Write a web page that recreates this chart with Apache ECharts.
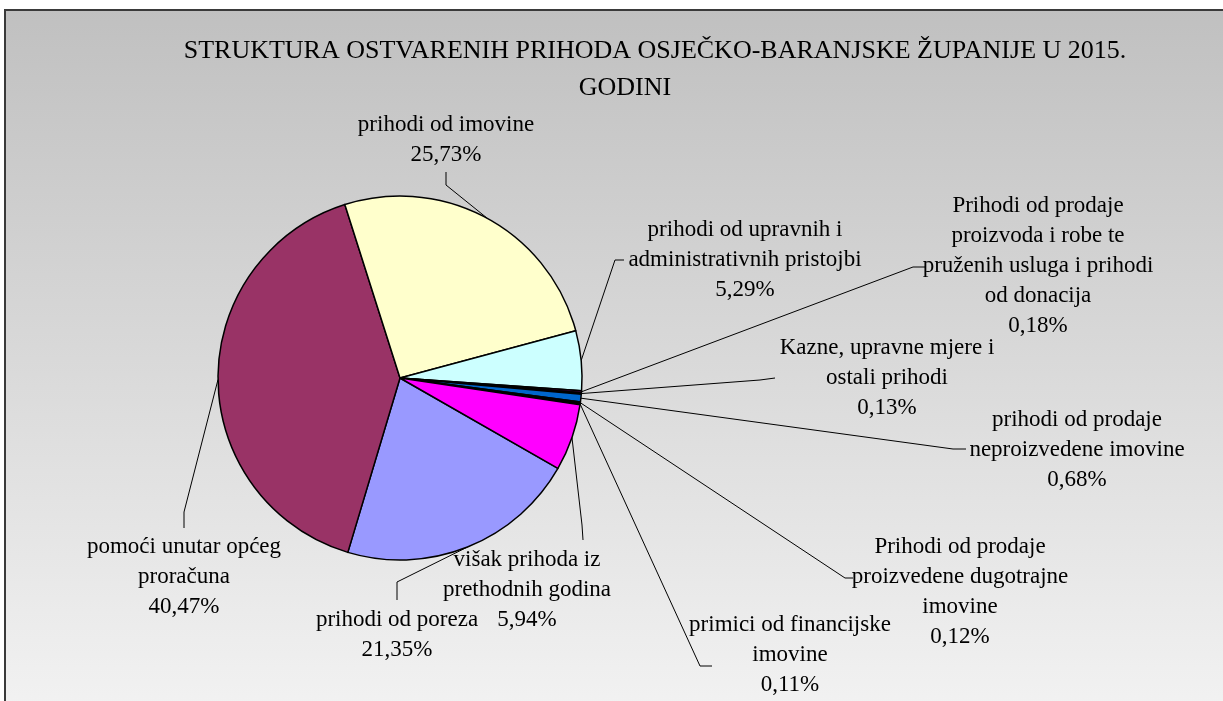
<!DOCTYPE html>
<html>
<head>
<meta charset="utf-8">
<title>Struktura prihoda 2015</title>
<script src="https://cdn.jsdelivr.net/npm/echarts@6/dist/echarts.min.js"></script>
<style>
  html, body { margin: 0; padding: 0; background: #fff; overflow: hidden; }
  #chart { width: 1223px; height: 701px; }
</style>
</head>
<body>
<div id="chart"></div>
<script>
// kategorije prihoda (redoslijed kao u izvornoj tablici)
const categories = [
  'prihodi od poreza',
  'pomoći unutar općeg\nproračuna',
  'prihodi od imovine',
  'prihodi od upravnih i\nadministrativnih pristojbi',
  'Prihodi od prodaje\nproizvoda i robe te\npruženih usluga i prihodi\nod donacija',
  'Kazne, upravne mjere i\nostali prihodi',
  'prihodi od prodaje\nneproizvedene imovine',
  'Prihodi od prodaje\nproizvedene dugotrajne\nimovine',
  'primici od financijske\nimovine',
  'višak prihoda iz\nprethodnih godina'
];
const shares = [21.35, 40.47, 25.73, 5.29, 0.18, 0.13, 0.68, 0.12, 0.11, 5.94];
const colors = ['#9999FF', '#993366', '#FFFFCC', '#CCFFFF', '#660066',
  '#FF8080', '#0066CC', '#CCCCFF', '#000080', '#FF00FF'];

// položaj oznaka: [x, y, lom linije, kraj linije]
const labelSpots = [
  [397, 635, [397, 582], [397, 600]],
  [184, 577, [184, 512], [184, 528]],
  [446, 140, [446, 185], [446, 172]],
  [745, 260, [615, 260], [624, 260]],
  [1038, 266, [913, 267], [925, 267]],
  [887, 378, [760, 380], [775, 378]],
  [1077, 450, [953, 449], [966, 449]],
  [960, 592, [845, 578], [853, 578]],
  [790, 655, [700, 666], [712, 666]],
  [527, 590, [582, 525], [583, 540]]
];

const chart = echarts.init(document.getElementById('chart'));
const option = {
  backgroundColor: '#ffffff',
  animation: false,
  graphic: [
    {
      type: 'rect',
      z: -10,
      shape: { x: 5, y: 10, width: 1300, height: 760 },
      style: {
        fill: {
          type: 'linear', x: 0, y: 0, x2: 0, y2: 1,
          colorStops: [
            { offset: 0, color: '#c0c0c0' },
            { offset: 0.92, color: '#f2f2f2' },
            { offset: 1, color: '#f4f4f4' }
          ]
        },
        stroke: '#3a3a3a',
        lineWidth: 2
      }
    }
  ],
  title: [
    {
      text: 'STRUKTURA OSTVARENIH PRIHODA OSJEČKO-BARANJSKE ŽUPANIJE U 2015.',
      left: 650,
      top: 33,
      textAlign: 'center',
      textStyle: { fontFamily: 'Liberation Serif', fontSize: 26, fontWeight: 'normal', color: '#000' }
    },
    {
      text: 'GODINI',
      left: 620,
      top: 70,
      textAlign: 'center',
      textStyle: { fontFamily: 'Liberation Serif', fontSize: 26, fontWeight: 'normal', color: '#000' }
    }
  ],
  series: [
    {
      type: 'pie',
      center: [400, 378],
      radius: 182,
      startAngle: -29.8,
      clockwise: true,
      avoidLabelOverlap: false,
      itemStyle: { borderColor: '#000', borderWidth: 1.5 },
      emphasis: { disabled: true },
      label: {
        show: true,
        position: 'outside',
        fontFamily: 'Liberation Serif',
        fontSize: 23,
        lineHeight: 30,
        color: '#000',
        align: 'center',
        formatter: function (p) {
          return p.name + '\n' + p.value.toFixed(2).replace('.', ',') + '%';
        }
      },
      labelLine: {
        show: true,
        length: 20,
        length2: 10,
        lineStyle: { color: '#000', width: 1 }
      },
      labelLayout: function (params) {
        const spot = labelSpots[params.dataIndex];
        const start = params.labelLinePoints[0];
        return {
          x: spot[0],
          y: spot[1],
          align: 'center',
          verticalAlign: 'middle',
          labelLinePoints: [start, spot[2], spot[3]]
        };
      },
      data: categories.map(function (name, i) {
        return { name: name, value: shares[i], itemStyle: { color: colors[i] } };
      })
    }
  ]
};
chart.setOption(option);
</script>
</body>
</html>
